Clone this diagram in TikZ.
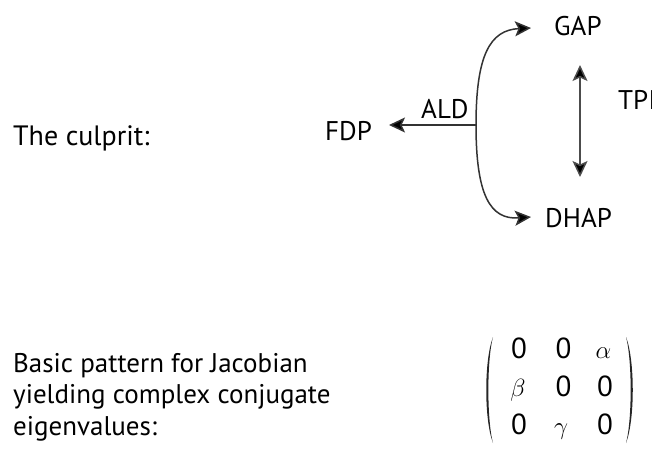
\documentclass[tikz,border=0pt]{standalone}
\usepackage{fontspec}
\setmainfont{PT Sans}
\usetikzlibrary{arrows.meta}
\begin{document}
\begin{tikzpicture}[x=1pt,y=-1pt,
  txt/.style={inner sep=0pt,anchor=base west,font=\fontsize{27}{32}\selectfont},
  lbl/.style={inner sep=0pt,anchor=base west,font=\fontsize{27}{30}\selectfont},
  head/.tip={Stealth[length=16pt,width=15pt,inset=3.5pt]},
  conn/.style={line width=1.5pt,draw=black!80,-{head[fill=black]}},
  both/.style={line width=1.5pt,draw=black!70,{head[fill=black]}-{head[fill=black]}},
  entry/.style={inner sep=0pt,anchor=base,font=\fontsize{29}{34}\selectfont},
  greek/.style={inner sep=0pt,anchor=base,font=\fontsize{28}{32}\selectfont},
  paren/.style={fill=black!85,draw=none}]
\useasboundingbox (0,0) rectangle (652,455);
\clip (0,0) rectangle (652,455);
% left captions
\node[txt,font=\fontsize{28}{32}\selectfont] (culprit) at (13,145) {The culprit:};
\node[txt] (basic1) at (13,372) {Basic pattern for Jacobian};
\node[txt] (basic2) at (13,403) {yielding complex conjugate};
\node[txt] (basic3) at (13,435) {eigenvalues:};
% metabolites and enzymes
\node[lbl] (fdp) at (325,140) {FDP};
\node[lbl] (ald) at (421,118) {ALD};
\node[lbl] (gap) at (554,35) {GAP};
\node[lbl] (dhap) at (545,227) {DHAP};
\node[lbl] (tpi) at (618,109) {TPI};
% branch point of the aldolase reaction and arrow tips
\coordinate (j) at (476,125);
\coordinate (fdptip) at (389,125);
\coordinate (gaptip) at (531,28);
\coordinate (dhaptip) at (531,217);
\coordinate (tpitop) at (580,65);
\coordinate (tpibot) at (580,177);
\draw[conn] (j) -- (fdptip);
\draw[conn] (j) .. controls (476,55) and (490,30) .. (gaptip);
\draw[conn] (j) .. controls (476,195) and (490,220) .. (dhaptip);
\draw[both] (tpitop) -- (tpibot);
% Jacobian pattern: entries
\node[entry] (m11) at (519,358) {0};
\node[entry] (m12) at (563.5,358) {0};
\node[greek] (m13) at (603.5,358) {$\alpha$};
\node[greek] (m21) at (518,396) {$\beta$};
\node[entry] (m22) at (563.5,396) {0};
\node[entry] (m23) at (605,396) {0};
\node[entry] (m31) at (519,434) {0};
\node[greek] (m32) at (561,434) {$\gamma$};
\node[entry] (m33) at (605,434) {0};
% Jacobian pattern: parentheses
\fill[paren] (493,337) .. controls (484,360) and (484,420) .. (493,443)
  .. controls (486.8,420) and (486.8,360) .. cycle;
\fill[paren] (626,337) .. controls (635,360) and (635,420) .. (626,443)
  .. controls (632.2,420) and (632.2,360) .. cycle;
\end{tikzpicture}
\end{document}
